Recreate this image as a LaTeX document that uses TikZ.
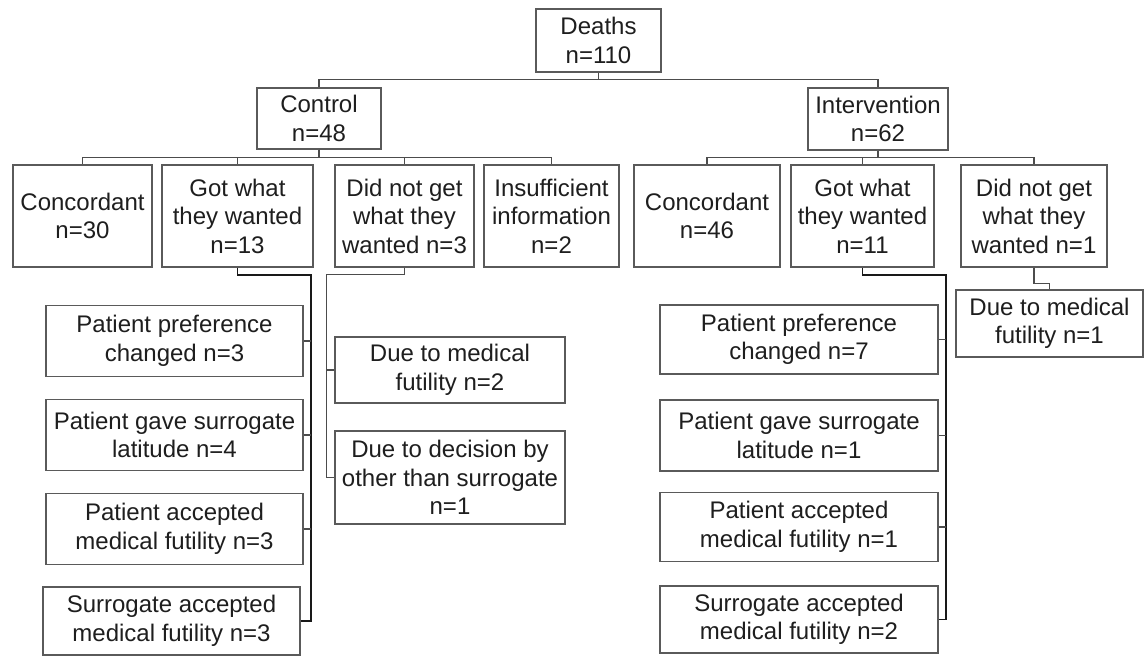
\documentclass[tikz,border=0pt]{standalone}
\usepackage{fontspec}
\setmainfont{Liberation Sans}
\usetikzlibrary{calc}
\definecolor{boxgray}{HTML}{5A5A5A}
\definecolor{txt}{HTML}{1E1E1E}
\begin{document}
\begin{tikzpicture}[x=1pt,y=-1pt,
  box/.style={draw=boxgray, line width=1.5pt, fill=white, inner sep=0pt, align=center,
    font=\fontsize{24}{28.5}\selectfont, text=txt},
  conn/.style={draw=black!70, line width=1.3pt},
  dark/.style={draw=black!90, line width=1.8pt}]
\useasboundingbox (0,0) rectangle (1146,656);
% top levels
\node[box, minimum width=125pt, minimum height=63pt] (deaths) at (598.5,40.5) {Deaths\\n=110};
\node[box, minimum width=124pt, minimum height=61pt] (control) at (319,118.5) {Control\\n=48};
\node[box, minimum width=140pt, minimum height=62pt] (interv) at (878,119) {Intervention\\n=62};
% second row
\node[box, minimum width=139pt, minimum height=102pt] (c1) at (82.5,216) {Concordant\\n=30};
\node[box, minimum width=151pt, minimum height=102pt] (g1) at (237.5,216) {Got what\\they wanted\\n=13};
\node[box, minimum width=139pt, minimum height=102pt] (d1) at (404.5,216) {Did not get\\what they\\wanted n=3};
\node[box, minimum width=135pt, minimum height=102pt] (i1) at (551.5,216) {Insufficient\\information\\n=2};
\node[box, minimum width=146pt, minimum height=102pt] (c2) at (707,216) {Concordant\\n=46};
\node[box, minimum width=143pt, minimum height=102pt] (g2) at (862.5,216) {Got what\\they wanted\\n=11};
\node[box, minimum width=146pt, minimum height=102pt] (d2) at (1034,216) {Did not get\\what they\\wanted n=1};
% left sub boxes
\node[box, minimum width=257pt, minimum height=71pt] (l1) at (174.5,341) {Patient preference\\changed n=3};
\node[box, minimum width=257pt, minimum height=71pt] (l2) at (174.5,435) {Patient gave surrogate\\latitude n=4};
\node[box, minimum width=257pt, minimum height=71pt] (l3) at (174.5,529) {Patient accepted\\medical futility n=3};
\node[box, minimum width=257pt, minimum height=68pt] (l4) at (171.5,621) {Surrogate accepted\\medical futility n=3};
% did-not-get (control) sub boxes
\node[box, minimum width=230pt, minimum height=66pt] (da) at (450,370) {Due to medical\\futility n=2};
\node[box, minimum width=230pt, minimum height=93pt] (db) at (450,477.5) {Due to decision by\\other than surrogate\\n=1};
% right sub boxes
\node[box, minimum width=278pt, minimum height=69pt] (r1) at (799,339.5) {Patient preference\\changed n=7};
\node[box, minimum width=278pt, minimum height=71pt] (r2) at (799,435.5) {Patient gave surrogate\\latitude n=1};
\node[box, minimum width=278pt, minimum height=69pt] (r3) at (799,527) {Patient accepted\\medical futility n=1};
\node[box, minimum width=278pt, minimum height=67pt] (r4) at (799,619.5) {Surrogate accepted\\medical futility n=2};
% did-not-get (intervention) sub box
\node[box, minimum width=187pt, minimum height=67pt] (dd) at (1049.5,323.5) {Due to medical\\futility n=1};
% connectors: top
\draw[conn] (deaths.south) -- ++(0,7) -| (control.north);
\draw[conn] (deaths.south) -- ++(0,7) -| (interv.north);
% control children
\draw[conn] (control.south) -- ++(0,8) -| (c1.north);
\draw[conn] (control.south) -- ++(0,8) -| (g1.north);
\draw[conn] (control.south) -- ++(0,8) -| (d1.north);
\draw[conn] (control.south) -- ++(0,8) -| (i1.north);
% intervention children
\draw[conn] (interv.south) -- ++(0,7) -| (c2.north);
\draw[conn] (interv.south) -- ++(0,7) -| (g2.north);
\draw[conn] (interv.south) -- ++(0,7) -| (d2.north);
% got what they wanted (control)
\draw[dark] (g1.south) -- ++(0,7) -| ($(l4.east)+(10,0)$) -- (l4.east);
\draw[conn] (l1.east) -- ++(7,0);
\draw[conn] (l2.east) -- ++(7,0);
\draw[conn] (l3.east) -- ++(7,0);
% did not get (control)
\draw[conn] (d1.south) -- ++(0,7) -| ($(db.west)+(-8,0)$) -- (db.west);
\draw[conn] (da.west) -- ++(-8,0);
% got what they wanted (intervention)
\draw[dark] (g2.south) -- ++(0,7) -| ($(r4.east)+(7,0)$) -- (r4.east);
\draw[conn] (r1.east) -- ++(7,0);
\draw[conn] (r2.east) -- ++(7,0);
\draw[conn] (r3.east) -- ++(7,0);
% did not get (intervention)
\draw[conn] (d2.south) -- ++(0,16) -| (dd.north);
\end{tikzpicture}
\end{document}
